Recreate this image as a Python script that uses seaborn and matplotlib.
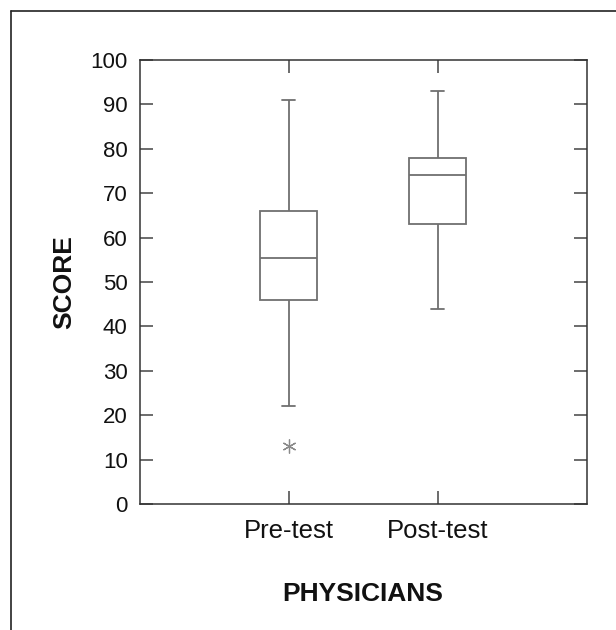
import matplotlib
matplotlib.use("Agg")
import matplotlib.pyplot as plt
from matplotlib.lines import Line2D
import seaborn as sns
import pandas as pd

# Scores (box stats: whisker ends, quartiles, median, outlier)
categories = ["Pre-test", "Post-test"]
pre_scores = [13, 22, 46, 46, 55.5, 66, 66, 91, 91]
post_scores = [44, 63, 74, 78, 93]
y_ticks = [0, 10, 20, 30, 40, 50, 60, 70, 80, 90, 100]

df = pd.DataFrame({
    "group": [categories[0]] * len(pre_scores) + [categories[1]] * len(post_scores),
    "score": pre_scores + post_scores,
})

sns.set_style("white")
plt.rcParams["font.family"] = ["Liberation Sans", "DejaVu Sans"]

fig = plt.figure(figsize=(6.16, 6.30), dpi=100)
ax = fig.add_axes([139.5 / 616, 1 - 504 / 630, (586.5 - 139.5) / 616, (504 - 60) / 630])

box_c = "#6f6f6f"
sns.boxplot(
    data=df, x="group", y="score", order=categories, ax=ax,
    width=0.38, color="white", linecolor=box_c, linewidth=1.3,
    whis=1.5, capwidths=0.085,
    flierprops=dict(marker=(6, 2, 0), markersize=10, markeredgewidth=0.9,
                    markeredgecolor="#8a8a8a", markerfacecolor="#8a8a8a"),
)

ax.set_xlim(-1, 2)
ax.set_ylim(0, 100)
ax.set_yticks(y_ticks)
ax.set_yticklabels([str(v) for v in y_ticks])
ax.set_xticks([0, 1])
ax.set_xticklabels(categories)

for s in ax.spines.values():
    s.set_visible(True)
    s.set_color("#333333")
    s.set_linewidth(1.1)

ax.tick_params(axis="both", which="major", direction="in", length=9.5, width=1.1,
               color="#444444", labelcolor="#111111",
               top=True, right=True, left=True, bottom=True)
ax.tick_params(axis="y", pad=8.5, labelsize=16)
ax.tick_params(axis="x", pad=11, labelsize=18.5)

ax.set_xlabel("PHYSICIANS", fontsize=19, fontweight="bold", labelpad=28, color="#111111")
ax.set_ylabel("SCORE", fontsize=19, fontweight="bold", labelpad=10, color="#111111")

# Figure frame lines (left and top)
fig.add_artist(Line2D([11 / 616, 11 / 616], [0, 1 - 11 / 630], transform=fig.transFigure,
                      color="#222222", linewidth=1.2))
fig.add_artist(Line2D([11 / 616, 1], [1 - 11 / 630, 1 - 11 / 630], transform=fig.transFigure,
                      color="#222222", linewidth=1.2))

fig.savefig("out.png", dpi=100, facecolor="white")
